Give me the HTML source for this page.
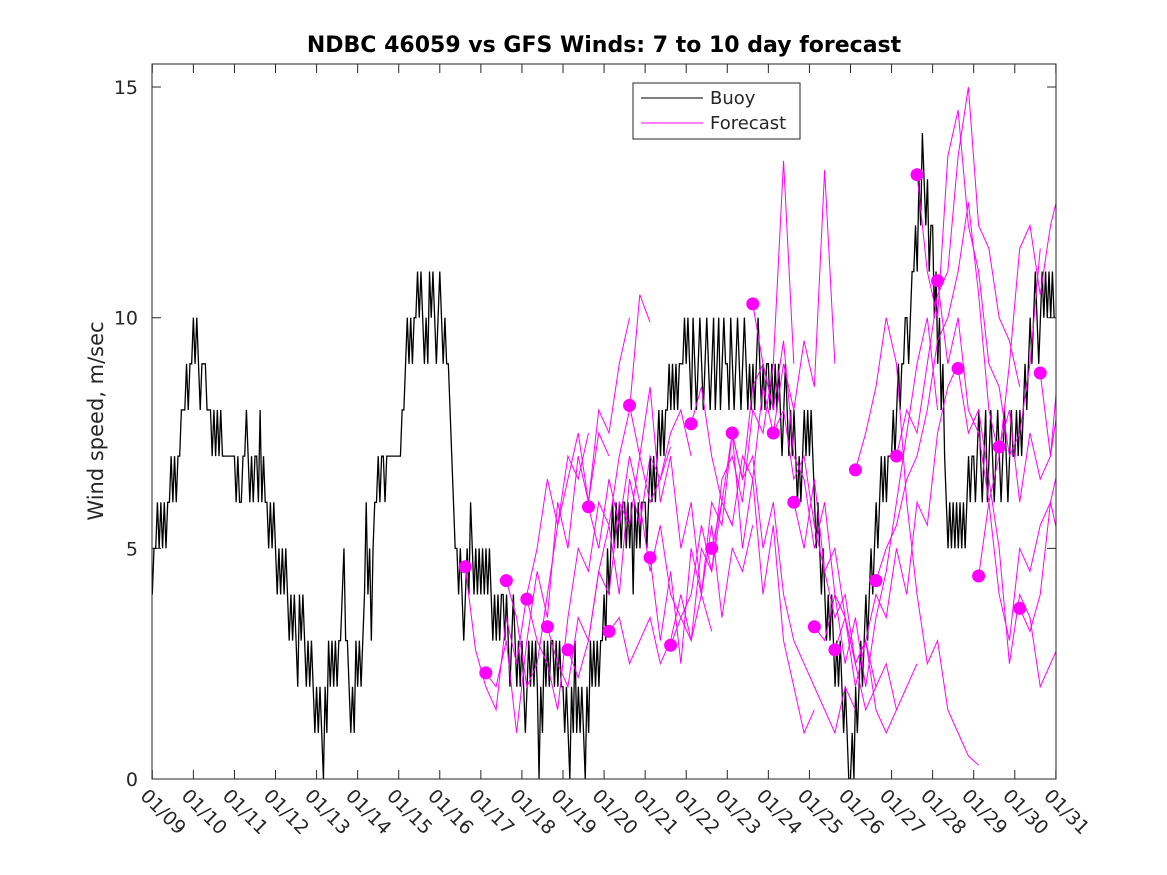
<!DOCTYPE html>
<html><head><meta charset="utf-8"><style>
body{margin:0;background:#fff;}
svg{display:block;font-family:"DejaVu Sans","Liberation Sans",sans-serif;}
</style></head><body>
<svg id="chart" width="1167" height="875">
<rect x="0" y="0" width="1167" height="875" fill="#fff"/>
<defs><clipPath id="clip"><rect x="152" y="64" width="904" height="715"/></clipPath></defs>
<text x="604" y="52" text-anchor="middle" font-size="22" font-weight="bold">NDBC 46059 vs GFS Winds: 7 to 10 day forecast</text>
<text transform="translate(103,421) rotate(-90)" text-anchor="middle" font-size="21" fill="#262626">Wind speed, m/sec</text>
<g id="yticks"></g>
<g id="xticks"></g>
<g id="plot" clip-path="url(#clip)"></g>
<rect x="152" y="64" width="904" height="715" fill="none" stroke="#262626" stroke-width="1"/>
<g>
<rect x="633" y="83" width="167" height="56" fill="#fff" stroke="#262626"/>
<line x1="641" y1="98" x2="703" y2="98" stroke="#000"/>
<text x="710" y="104" font-size="18" fill="#262626">Buoy</text>
<line x1="641" y1="123" x2="703" y2="123" stroke="#f0f"/>
<text x="710" y="129" font-size="18" fill="#262626">Forecast</text>
</g>
</svg>
<script>
const xLabels=["01/09","01/10","01/11","01/12","01/13","01/14","01/15","01/16","01/17","01/18","01/19","01/20","01/21","01/22","01/23","01/24","01/25","01/26","01/27","01/28","01/29","01/30","01/31"];
const yTicks=[0,5,10,15];
// hourly buoy wind speed, one string per day (hex digits)
const buoyDays=[
"455656565667676778889899",
"a9a989998887878787777777",
"767667787676776867665656",
"545454543434324343232321",
"212102132323233453321213",
"232346453566767767777777",
"77889a9a9aababa9a9baba9a",
"ba9a998765545434546545 45".replace(/ /g,""),
"454545434343443432343232",
"321232323202132323323232",
"212102131212102132323233",
"435456565656656564656566",
"65676767878788989898999a",
"9a98a989a989a989a89a89a9",
"98a989a989a9898989a98989",
"989898987898787876767878",
"787656545434343232321210",
"010212323434545656767677",
"78789899aa9abbcbdcedcdbc",
"cab9a8976565656565656767",
"767876786787678767876787",
"787878989a9aba9ababababa"
];
const fcStart=7.62; // day of first forecast dot
const fcStep=0.5;   // days between forecasts
const fcValues=[
[4.6,2.8,2.0,1.5,3.5,2.5,4.0,5.0,6.5,5.5,7.0,6.5,7.5],
[2.3,2.0,3.0,1.0,3.0,4.5,3.5,6.0,5.0,7.0,6.0,7.5,7.0],
[4.3,3.5,2.0,2.5,4.0,5.5,6.5,7.5,6.0,8.0,7.5,9.0,10.0],
[3.9,3.0,2.5,1.5,3.5,5.0,4.5,6.0,5.5,7.0,8.0,10.5,9.9],
[3.3,2.5,2.0,3.5,3.0,4.5,5.5,4.0,6.5,5.5,7.0,6.5,7.2],
[2.8,2.2,3.0,4.5,4.0,6.0,5.5,7.0,6.0,6.5,7.5,8.0,7.0],
[5.9,5.0,6.5,5.5,7.0,6.0,4.5,5.5,4.0,3.5,3.0,4.0,3.2],
[3.2,3.5,2.5,3.0,3.5,2.5,3.0,4.0,3.0,5.0,4.5,6.0,5.5],
[8.1,7.0,8.5,6.0,7.0,5.0,6.0,4.0,5.5,3.5,5.0,4.5,5.5],
[4.8,3.0,4.5,2.5,5.0,4.0,6.0,5.5,7.5,6.5,8.5,9.0,8.0],
[2.9,3.5,4.0,5.5,4.5,6.5,7.0,6.0,8.0,7.5,9.0,13.4,9.0],
[7.7,8.5,7.0,6.0,7.5,5.0,6.5,4.0,5.5,3.0,2.0,1.0,1.5],
[5.0,6.0,5.5,7.0,6.5,8.5,7.5,9.0,8.0,9.5,8.5,13.2,9.0],
[7.5,6.5,7.0,5.0,6.0,4.0,3.0,2.5,2.0,1.5,1.0,2.0,1.5],
[10.3,9.0,8.0,9.5,7.0,6.5,5.0,6.0,4.0,3.5,2.5,1.5,2.0],
[7.5,8.0,6.5,7.0,5.5,4.5,5.0,3.5,2.5,3.0,1.5,1.0,1.5],
[6.0,5.0,6.5,4.5,3.5,4.0,2.5,3.0,2.0,2.5,1.5,2.0,2.5],
[3.3,3.0,4.0,2.5,3.5,2.0,3.5,4.5,6.0,7.5,9.0,10.0,8.0],
[2.8,3.5,2.0,3.0,4.0,3.5,5.0,4.0,6.0,5.5,7.5,8.5,9.0],
[6.7,7.5,8.5,10.0,9.0,6.0,4.0,2.5,3.0,1.5,1.0,0.5,0.3],
[4.3,5.0,5.5,6.5,7.0,8.0,9.5,10.0,11.0,12.5,10.5,8.0,7.0],
[7.0,8.0,7.5,9.0,10.5,11.0,13.5,15.0,12.0,11.5,10.0,9.5,8.5],
[13.1,11.0,10.0,13.5,14.5,12.0,11.0,9.0,8.5,7.0,7.5,9.0,11.5],
[10.8,9.0,10.0,8.0,7.5,6.0,4.0,3.0,5.0,4.5,5.5,6.0,5.0],
[8.9,7.5,8.0,6.5,5.0,2.5,4.0,3.5,2.0,2.5,3.0,2.0,2.4],
[4.4,6.0,7.0,9.0,11.5,12.0,10.5,12.0,12.9],
[7.2,8.0,6.0,7.5,6.5,7.0,8.5,7.0,6.0,6.5],
[3.7,3.2,4.0,6.0,7.0,6.5,7.5],
[8.8,7.0,9.5,8.0,13.4,6.0,4.7]
];
const NS="http://www.w3.org/2000/svg";
const X0=152.3,DAYPX=41.07,Y0=779,YPX=46.13;
function xs(d){return X0+d*DAYPX;}
function ys(v){return Y0-v*YPX;}
function mk(tag,attrs,parent){const e=document.createElementNS(NS,tag);for(const k in attrs)e.setAttribute(k,attrs[k]);parent.appendChild(e);return e;}
const yt=document.getElementById('yticks'),xt=document.getElementById('xticks'),plot=document.getElementById('plot');
yTicks.forEach(v=>{
  const y=ys(v);
  const l=mk('path',{d:`M152,${y}h9M1056,${y}h-9`,stroke:'#262626'},yt);
  
  
  const t=mk('text',{x:138,y:y+7,'text-anchor':'end','font-size':19,fill:'#262626'},yt);
  t.textContent=v;
  
  
});
xLabels.forEach((lab,i)=>{
  const x=xs(i);
  const l=mk('path',{d:`M${x},779v-9M${x},64v9`,stroke:'#262626'},xt);
  
  
  const t=mk('text',{transform:`translate(${x-13},${797}) rotate(45)`,'font-size':19,fill:'#262626'},xt);
  t.textContent=lab;
  
  
});
// buoy
let pts=[];
buoyDays.forEach((s,d)=>{for(let h=0;h<s.length;h++){pts.push(xs(d+h/24).toFixed(2)+','+ys(parseInt(s[h],16)).toFixed(2));}});
const bl=mk('polyline',{points:pts.join(' '),fill:'none',stroke:'#000','stroke-width':1.3},plot);


// forecasts
fcValues.forEach((arr,i)=>{
  const d0=fcStart+i*fcStep;
  const p=arr.map((v,j)=>xs(d0+j*0.25).toFixed(2)+','+ys(v).toFixed(2)).join(' ');
  const pl=mk('polyline',{points:p,fill:'none',stroke:'#f0f','stroke-width':1},plot);
  
  
});
fcValues.forEach((arr,i)=>{
  const c=mk('circle',{cx:xs(fcStart+i*fcStep),cy:ys(arr[0]),r:6.5,fill:'#f0f'},plot);
  
  
});
</script>
</body></html>
